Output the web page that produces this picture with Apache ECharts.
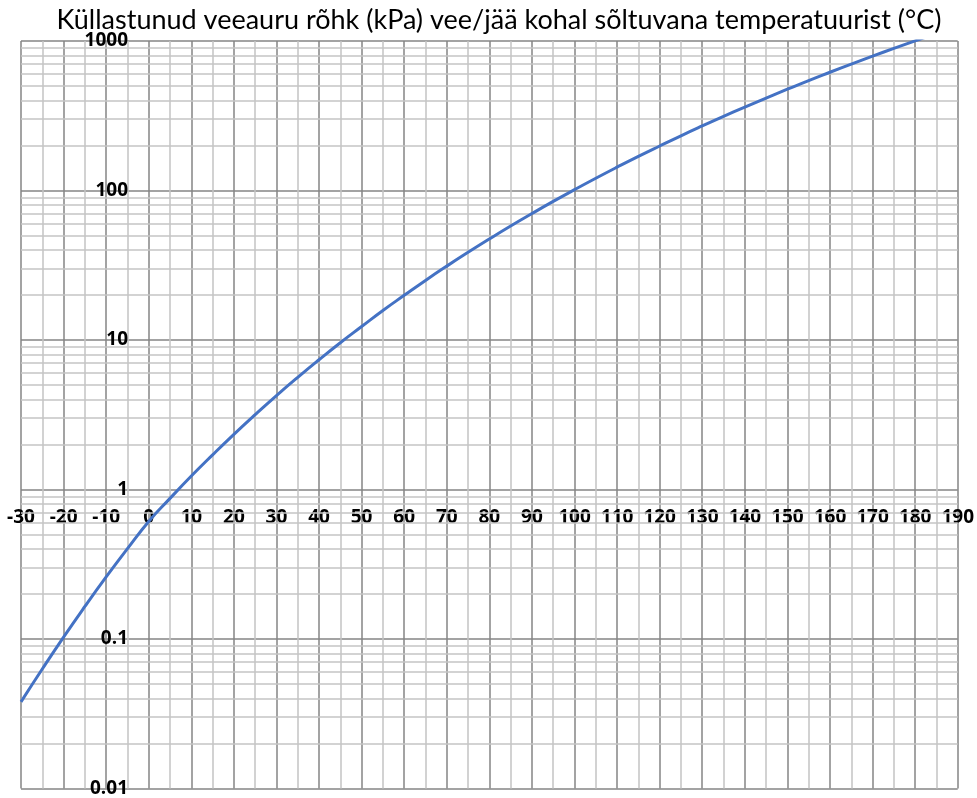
<!DOCTYPE html>
<html>
<head>
<meta charset="utf-8">
<title>Küllastunud veeauru rõhk</title>
<script src="https://cdn.jsdelivr.net/npm/echarts@6/dist/echarts.min.js"></script>
<style>
html,body{margin:0;padding:0;background:#fff;}
#main{width:977px;height:798px;}
</style>
</head>
<body>
<div id="main"></div>
<script>
// temperatuur (°C) ja rõhk (kPa), loetud graafikult
var temps = [-30,-25,-20,-15,-10,-5,0,5,10,15,20,25,30,35,40,45,50,55,60,65,70,75,80,85,90,95,100,105,110,115,120,125,130,135,140,145,150,155,160,165,170,175,180,185];
var pressures = [0.038,0.063,0.103,0.165,0.26,0.402,0.611,0.872,1.23,1.705,2.34,3.17,4.25,5.63,7.38,9.59,12.3,15.76,19.9,25.03,31.2,38.58,47.4,57.87,70.1,84.55,101.3,120.8,143.3,169.2,198.5,232.2,270.1,313.0,361.3,415.5,475.8,543.5,617.8,700.9,791.7,892.4,1002,1123];
// y-telje abijooned (2..9 igas dekaadis)
var minorY = [0.02,0.03,0.04,0.05,0.06,0.07,0.08,0.09,0.2,0.3,0.4,0.5,0.6,0.7,0.8,0.9,2,3,4,5,6,7,8,9,20,30,40,50,60,70,80,90,200,300,400,500,600,700,800,900];

var data = [];
for (var i = 0; i < temps.length; i++) {
	data.push([temps[i], pressures[i]]);
}
var minorLines = [];
for (var j = 0; j < minorY.length; j++) {
	minorLines.push({yAxis: minorY[j]});
}

var myChart = echarts.init(document.getElementById('main'));

var option = {
	animation: false,
	title: {
		text: 'Küllastunud veeauru rõhk (kPa) vee/jää kohal sõltuvana temperatuurist (°C)',
		left: 494,
		textAlign: 'center',
		top: 2,
		textStyle: {
			fontFamily: 'Lato',
			fontWeight: 'normal',
			fontSize: 27,
			color: '#000'
		}
	},
	grid: {
		left: 21,
		right: 18,
		top: 41,
		bottom: 8
	},
	xAxis: {
		type: 'value',
		min: -30,
		max: 190,
		interval: 10,
		axisLine: {show: false},
		axisTick: {show: false},
		axisLabel: {
			margin: -271,
			verticalAlign: 'middle',
			fontFamily: 'Open Sans',
			fontWeight: 'bold',
			fontSize: 19,
			color: '#000'
		},
		splitLine: {show: true, lineStyle: {color: '#858585', width: 1.5}},
		minorTick: {show: false, splitNumber: 2},
		minorSplitLine: {show: true, lineStyle: {color: '#c4c4c4', width: 1.5}}
	},
	yAxis: {
		type: 'log',
		logBase: 10,
		min: 0.01,
		max: 1000,
		axisLine: {show: false},
		axisTick: {show: false},
		axisLabel: {
			margin: -107,
			fontFamily: 'Open Sans',
			fontWeight: 'bold',
			fontSize: 19,
			color: '#000',
			formatter: function (v) { return String(v); }
		},
		splitLine: {show: true, lineStyle: {color: '#858585', width: 1.5}}
	},
	series: [{
		name: 'abijooned',
		type: 'line',
		data: [],
		silent: true,
		z: 1,
		markLine: {
			silent: true,
			z: 1,
			symbol: 'none',
			label: {show: false},
			lineStyle: {color: '#c4c4c4', width: 1.5, type: 'solid'},
			data: minorLines
		}
	}, {
		name: 'rõhk',
		type: 'line',
		data: data,
		smooth: true,
		showSymbol: false,
		clip: true,
		z: 3,
		lineStyle: {color: '#4472C4', width: 3}
	}]
};

myChart.setOption(option);
</script>
</body>
</html>
